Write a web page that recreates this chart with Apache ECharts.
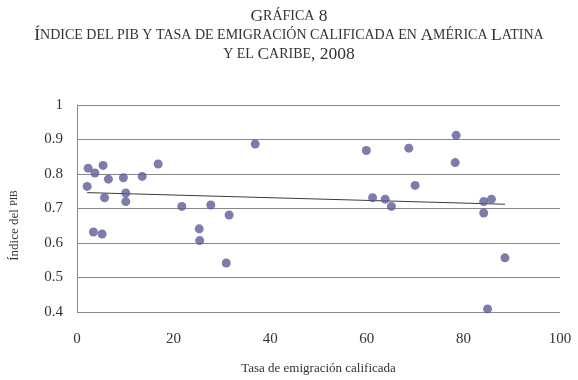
<!DOCTYPE html>
<html>
<head>
<meta charset="utf-8">
<script src="https://cdn.jsdelivr.net/npm/echarts@6/dist/echarts.min.js"></script>
<style>
  html, body { margin: 0; padding: 0; background: #fff; }
  #chart { width: 578px; height: 380px; }
</style>
</head>
<body>
<div id="chart"></div>
<script>
// tasa de emigración calificada (%)
const emigracion = [
  2.1, 2.3, 3.7, 5.4, 6.5, 5.7, 3.4, 5.2, 9.6, 10.1, 10.1, 13.5, 16.8,
  21.7, 25.3, 25.4, 27.7, 31.5, 30.9, 36.9, 59.9, 61.2, 63.8, 65.1,
  68.7, 70.0, 78.5, 78.3, 84.2, 85.8, 84.2, 88.6, 85.0
];
// índice del PIB
const indicePib = [
  0.764, 0.817, 0.803, 0.825, 0.785, 0.731, 0.632, 0.626, 0.789, 0.745, 0.720, 0.793, 0.829,
  0.706, 0.641, 0.607, 0.710, 0.681, 0.542, 0.887, 0.868, 0.731, 0.727, 0.706,
  0.875, 0.767, 0.912, 0.833, 0.720, 0.727, 0.687, 0.557, 0.409
];
const xTicks = [0, 20, 40, 60, 80, 100];

const points = emigracion.map((x, i) => [x, indicePib[i]]);

// recta de tendencia (mínimos cuadrados)
const n = points.length;
const mx = emigracion.reduce((a, b) => a + b, 0) / n;
const my = indicePib.reduce((a, b) => a + b, 0) / n;
let sxy = 0, sxx = 0;
points.forEach(([x, y]) => { sxy += (x - mx) * (y - my); sxx += (x - mx) * (x - mx); });
const slope = sxy / sxx;
const icpt = my - slope * mx;
const xMin = Math.min(...emigracion);
const xMax = Math.max(...emigracion);
const trend = [[xMin, icpt + slope * xMin], [xMax, icpt + slope * xMax]];

const serif = '"Liberation Serif", "DejaVu Serif", serif';

const chart = echarts.init(document.getElementById('chart'));
const option = {
  animation: false,
  title: {
    left: 'center',
    top: 2,
    text: '{b|G}{s|RÁFICA}{b| 8}\n{b|Í}{s|NDICE DEL PIB Y TASA DE EMIGRACIÓN CALIFICADA EN }{b|A}{s|MÉRICA }{b|L}{s|ATINA}\n{s|Y EL }{b|C}{s|ARIBE}{b|, 2008}',
    textStyle: {
      fontWeight: 'normal',
      rich: {
        b: { fontFamily: serif, fontSize: 17.5, fontWeight: 'normal', color: '#333', lineHeight: 19 },
        s: { fontFamily: serif, fontSize: 14, fontWeight: 'normal', color: '#333', lineHeight: 19 }
      }
    }
  },
  grid: { left: 77, right: 18, top: 105, bottom: 68 },
  xAxis: {
    type: 'value',
    min: 0,
    max: 100,
    interval: 20,
    name: 'Tasa de emigración calificada',
    nameLocation: 'middle',
    nameGap: 50,
    nameTextStyle: { fontFamily: serif, fontSize: 13, color: '#333' },
    axisLine: { show: false },
    axisTick: { show: false },
    splitLine: { show: false },
    axisLabel: {
      margin: 20,
      fontFamily: serif,
      fontSize: 15,
      color: '#333',
      customValues: xTicks
    }
  },
  yAxis: {
    type: 'value',
    min: 0.4,
    max: 1,
    interval: 0.1,
    name: '{n|Índice del }{s|PIB}',
    nameLocation: 'middle',
    nameGap: 56,
    nameRotate: 90,
    nameTextStyle: {
      padding: [0, 34, 0, 0],
      rich: {
        n: { fontFamily: serif, fontSize: 13, color: '#333' },
        s: { fontFamily: serif, fontSize: 10, color: '#333' }
      }
    },
    axisLine: { show: true, lineStyle: { color: '#888', width: 1 } },
    axisTick: { show: false },
    splitLine: { show: true, lineStyle: { color: '#888', width: 1 } },
    axisLabel: {
      margin: 14,
      fontFamily: serif,
      fontSize: 15,
      color: '#333',
      formatter: v => String(Math.round(v * 10) / 10)
    }
  },
  series: [
    {
      type: 'scatter',
      data: points,
      symbolSize: 9,
      itemStyle: { color: '#5c5c97' },
      z: 3
    },
    {
      type: 'line',
      data: trend,
      symbol: 'none',
      lineStyle: { color: '#3a3a3a', width: 1 },
      z: 2
    }
  ]
};
chart.setOption(option);
</script>
</body>
</html>
